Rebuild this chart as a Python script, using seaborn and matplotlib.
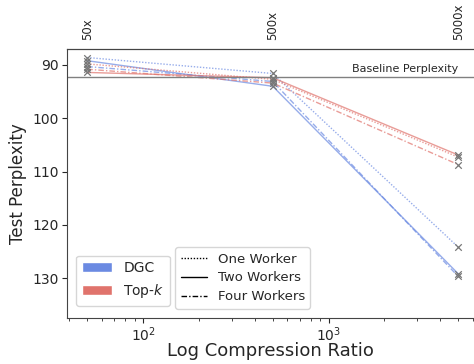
import numpy as np
import pandas as pd
import seaborn as sns
import matplotlib
matplotlib.use("Agg")
import matplotlib.pyplot as plt
from matplotlib.patches import Patch
from matplotlib.lines import Line2D

ratios = [50, 500, 5000]
ratio_labels = ["50x", "500x", "5000x"]
methods = ["DGC", "Top-k"]
workers = ["One Worker", "Two Workers", "Four Workers"]

dgc_one = [88.6, 91.6, 124.2]
dgc_two = [89.2, 94.0, 129.2]
dgc_four = [90.3, 93.1, 129.7]
topk_one = [89.8, 92.7, 107.3]
topk_two = [91.4, 92.4, 106.9]
topk_four = [90.8, 93.4, 108.7]

baseline = 92.25

series = {
    ("DGC", "One Worker"): dgc_one,
    ("DGC", "Two Workers"): dgc_two,
    ("DGC", "Four Workers"): dgc_four,
    ("Top-k", "One Worker"): topk_one,
    ("Top-k", "Two Workers"): topk_two,
    ("Top-k", "Four Workers"): topk_four,
}
rows = []
for (m, w), vals in series.items():
    for r, v in zip(ratios, vals):
        rows.append({"ratio": r, "perplexity": v, "method": m, "workers": w})
df = pd.DataFrame(rows)

sns.set_style("ticks")
plt.rcParams["font.family"] = ["DejaVu Sans"]

palette = {"DGC": "#6b8ae2", "Top-k": "#e0736c"}
dashes = {"One Worker": (1, 1.2), "Two Workers": "", "Four Workers": (4, 1.5, 1, 1.5)}

fig = plt.figure(figsize=(4.74, 3.64), dpi=100)
ax = fig.add_axes([0.1414, 0.1264, 0.8586, 0.739])

sns.lineplot(data=df, x="ratio", y="perplexity", hue="method", style="workers",
             palette=palette, dashes=dashes, linewidth=1.0, alpha=0.7,
             legend=False, ax=ax)
sns.scatterplot(data=df, x="ratio", y="perplexity", marker="x", color="#777777",
                s=22, linewidth=0.9, legend=False, ax=ax, zorder=3)

ax.axhline(baseline, color="#808080", linewidth=1.0)
ax.text(0.961, baseline - 0.6, "Baseline Perplexity", transform=ax.get_yaxis_transform(),
        ha="right", va="bottom", fontsize=8)

ax.set_xscale("log")
ax.set_xlim(38.9, 6080)
ax.set_ylim(137.5, 87.0)
ax.set_yticks([90, 100, 110, 120, 130])
ax.tick_params(axis="both", labelsize=10, pad=2.5)
ax.tick_params(axis="x", pad=1.5)
ax.set_xlabel("Log Compression Ratio", fontsize=13, labelpad=-1)
ax.set_ylabel("Test Perplexity", fontsize=12)
ax.spines["right"].set_visible(False)
for s in ["left", "bottom", "top"]:
    ax.spines[s].set_color("#444444")

top = ax.secondary_xaxis("top")
top.set_xticks(ratios)
top.set_xticklabels(ratio_labels, rotation=90, fontsize=8.5)
top.tick_params(length=0, which="both", pad=6.5)
top.xaxis.set_minor_locator(matplotlib.ticker.NullLocator())

h1 = [Patch(facecolor=palette["DGC"], label="DGC"),
      Patch(facecolor=palette["Top-k"], label="Top-$k$")]
leg1 = ax.legend(handles=h1, loc="lower left", bbox_to_anchor=(0.005, 0.02),
                 fontsize=10, handlelength=2.2)
ax.add_artist(leg1)
h2 = [Line2D([], [], color="black", linewidth=1.0, linestyle=(0, (1, 1.2)), label="One Worker"),
      Line2D([], [], color="black", linewidth=1.0, label="Two Workers"),
      Line2D([], [], color="black", linewidth=1.0, linestyle=(0, (4, 1.5, 1, 1.5)), label="Four Workers")]
ax.legend(handles=h2, loc="lower left", bbox_to_anchor=(0.25, 0.01), fontsize=9.5,
          handlelength=2.0, labelspacing=0.45)

fig.savefig("out.png", dpi=100)
